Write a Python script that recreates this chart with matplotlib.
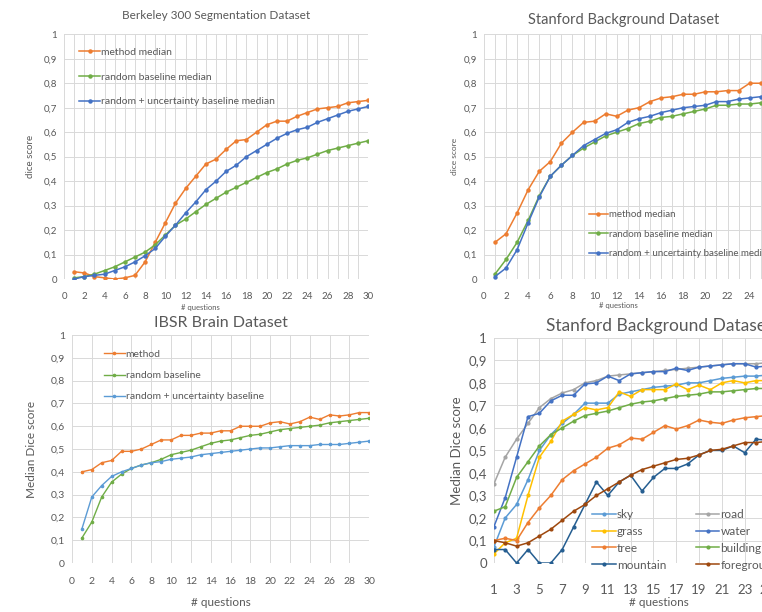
import matplotlib
matplotlib.use("Agg")
import matplotlib.pyplot as plt
from matplotlib.ticker import FuncFormatter, MultipleLocator

plt.rcParams["font.family"] = ["Lato", "DejaVu Sans"]

# ── data ──────────────────────────────────────────────────────────────────────
questions = list(range(1, 31))

# Berkeley 300 Segmentation Dataset
bsd_method = [0.03, 0.025, 0.01, 0.005, 0.0, 0.005, 0.015, 0.07, 0.15, 0.23,
              0.31, 0.37, 0.42, 0.47, 0.49, 0.53, 0.565, 0.57, 0.60, 0.63,
              0.645, 0.645, 0.665, 0.68, 0.695, 0.70, 0.705, 0.72, 0.725, 0.73]
bsd_random = [0.005, 0.01, 0.02, 0.035, 0.05, 0.07, 0.09, 0.11, 0.14, 0.18,
              0.22, 0.245, 0.275, 0.305, 0.33, 0.355, 0.375, 0.395, 0.415, 0.435,
              0.45, 0.47, 0.485, 0.495, 0.51, 0.525, 0.535, 0.545, 0.555, 0.565]
bsd_unc = [0.0, 0.01, 0.015, 0.02, 0.035, 0.05, 0.07, 0.095, 0.125, 0.175,
           0.22, 0.27, 0.315, 0.365, 0.40, 0.44, 0.465, 0.50, 0.525, 0.55,
           0.575, 0.595, 0.61, 0.62, 0.64, 0.655, 0.67, 0.685, 0.695, 0.705]

# Stanford Background Dataset (overall)
sbd_method = [0.15, 0.185, 0.27, 0.365, 0.44, 0.48, 0.555, 0.60, 0.64, 0.645,
              0.675, 0.665, 0.69, 0.70, 0.725, 0.74, 0.745, 0.755, 0.755, 0.765,
              0.765, 0.77, 0.77, 0.80, 0.80, 0.80, 0.81, 0.815, 0.82, 0.82]
sbd_random = [0.02, 0.08, 0.15, 0.24, 0.34, 0.42, 0.465, 0.505, 0.535, 0.56,
              0.585, 0.60, 0.615, 0.635, 0.645, 0.66, 0.665, 0.675, 0.685, 0.695,
              0.71, 0.71, 0.715, 0.715, 0.72, 0.725, 0.73, 0.735, 0.74, 0.74]
sbd_unc = [0.01, 0.045, 0.12, 0.23, 0.335, 0.42, 0.465, 0.505, 0.545, 0.57,
           0.595, 0.61, 0.64, 0.655, 0.665, 0.68, 0.69, 0.70, 0.705, 0.71,
           0.725, 0.725, 0.735, 0.74, 0.745, 0.75, 0.755, 0.76, 0.76, 0.765]

# IBSR Brain Dataset
ibsr_method = [0.40, 0.41, 0.44, 0.45, 0.49, 0.49, 0.50, 0.52, 0.54, 0.54,
               0.56, 0.56, 0.57, 0.57, 0.58, 0.58, 0.60, 0.60, 0.60, 0.615,
               0.62, 0.61, 0.62, 0.64, 0.63, 0.65, 0.645, 0.65, 0.66, 0.66]
ibsr_random = [0.11, 0.18, 0.29, 0.355, 0.39, 0.415, 0.43, 0.44, 0.455, 0.475,
               0.485, 0.495, 0.51, 0.525, 0.535, 0.54, 0.55, 0.56, 0.565, 0.575,
               0.585, 0.59, 0.595, 0.60, 0.605, 0.615, 0.62, 0.625, 0.63, 0.635]
ibsr_unc = [0.15, 0.29, 0.34, 0.38, 0.40, 0.415, 0.43, 0.44, 0.445, 0.455,
            0.46, 0.465, 0.475, 0.48, 0.485, 0.49, 0.495, 0.50, 0.505, 0.505,
            0.51, 0.515, 0.515, 0.515, 0.52, 0.52, 0.52, 0.525, 0.53, 0.535]

# Stanford Background Dataset, per class
cls_sky = [0.07, 0.20, 0.26, 0.37, 0.50, 0.57, 0.62, 0.66, 0.71, 0.71,
           0.71, 0.75, 0.76, 0.77, 0.78, 0.785, 0.79, 0.80, 0.80, 0.81,
           0.82, 0.825, 0.83, 0.83, 0.835, 0.84, 0.84, 0.845, 0.845, 0.85]
cls_grass = [0.04, 0.09, 0.11, 0.30, 0.47, 0.54, 0.63, 0.66, 0.69, 0.68,
             0.69, 0.76, 0.74, 0.77, 0.77, 0.77, 0.795, 0.77, 0.79, 0.77,
             0.80, 0.81, 0.80, 0.81, 0.81, 0.815, 0.82, 0.82, 0.825, 0.825]
cls_tree = [0.10, 0.11, 0.10, 0.18, 0.245, 0.30, 0.37, 0.41, 0.44, 0.47,
            0.51, 0.525, 0.555, 0.55, 0.58, 0.61, 0.595, 0.61, 0.635, 0.625,
            0.62, 0.635, 0.645, 0.65, 0.655, 0.66, 0.665, 0.665, 0.67, 0.67]
cls_mountain = [0.06, 0.06, 0.0, 0.06, 0.0, 0.0, 0.06, 0.16, 0.26, 0.36,
                0.30, 0.36, 0.39, 0.32, 0.38, 0.42, 0.42, 0.44, 0.48, 0.50,
                0.50, 0.52, 0.49, 0.55, 0.545, 0.55, 0.56, 0.56, 0.57, 0.57]
cls_road = [0.35, 0.47, 0.55, 0.62, 0.69, 0.73, 0.755, 0.77, 0.80, 0.81,
            0.83, 0.835, 0.84, 0.845, 0.85, 0.855, 0.86, 0.865, 0.87, 0.875,
            0.88, 0.885, 0.885, 0.885, 0.89, 0.89, 0.89, 0.895, 0.895, 0.895]
cls_water = [0.16, 0.29, 0.47, 0.65, 0.665, 0.72, 0.745, 0.745, 0.795, 0.80,
             0.83, 0.81, 0.84, 0.845, 0.85, 0.85, 0.865, 0.855, 0.87, 0.875,
             0.88, 0.885, 0.885, 0.87, 0.875, 0.88, 0.88, 0.885, 0.885, 0.89]
cls_building = [0.23, 0.25, 0.38, 0.45, 0.52, 0.57, 0.60, 0.63, 0.655, 0.665,
                0.675, 0.69, 0.705, 0.715, 0.72, 0.73, 0.74, 0.745, 0.75, 0.76,
                0.76, 0.765, 0.77, 0.775, 0.775, 0.78, 0.78, 0.785, 0.785, 0.79]
cls_foreground = [0.10, 0.09, 0.075, 0.09, 0.12, 0.15, 0.19, 0.23, 0.26, 0.30,
                  0.33, 0.36, 0.39, 0.415, 0.43, 0.445, 0.46, 0.465, 0.48, 0.50,
                  0.505, 0.52, 0.535, 0.535, 0.54, 0.545, 0.55, 0.555, 0.56, 0.56]

# ── palette (Office defaults) ────────────────────────────────────────────────
ORANGE = "#ED7D31"
GREEN = "#70AD47"
BLUE = "#4472C4"
LIGHTBLUE = "#5B9BD5"
GREY = "#A5A5A5"
YELLOW = "#FFC000"
DARKBLUE = "#255E91"
BROWN = "#9E480E"
TXT = "#595959"
GRID = "#D9D9D9"

comma = FuncFormatter(lambda v, _: "0" if abs(v) < 1e-9 else ("1" if abs(v - 1) < 1e-9 else f"{v:.1f}".replace(".", ",")))


def _style(ax, tick_size, xmajor, xminor=None, xpad=7):
    for s in ax.spines.values():
        s.set_visible(False)
    ax.set_ylim(0, 1)
    ax.yaxis.set_major_locator(MultipleLocator(0.1))
    ax.yaxis.set_major_formatter(comma)
    ax.xaxis.set_major_locator(MultipleLocator(xmajor))
    if xminor:
        ax.xaxis.set_minor_locator(MultipleLocator(xminor))
        ax.grid(True, which="minor", axis="x", color=GRID, lw=0.7)
    ax.grid(True, which="major", color=GRID, lw=0.7)
    ax.set_axisbelow(True)
    ax.tick_params(which="both", length=0, labelsize=tick_size, colors=TXT, pad=5)
    ax.tick_params(axis="x", pad=xpad)


def _line(ax, y, color, label, lw=1.1, ms=2.2):
    ax.plot(questions, y, color=color, lw=lw, marker="o", ms=ms, label=label)


def _legend(ax, x, y, size, spacing, **kw):
    ax.legend(loc="upper left", bbox_to_anchor=(x, y), bbox_transform=fig.transFigure,
              frameon=False, fontsize=size, labelcolor=TXT, handlelength=2.0,
              handletextpad=0.1, labelspacing=spacing, **kw)


fig = plt.figure(figsize=(7.62, 6.12), dpi=100)

# ── Berkeley ─────────────────────────────────────────────────────────────────
ax1 = fig.add_axes([0.084, 0.544, 0.399, 0.400])
_line(ax1, bsd_method, ORANGE, "method median")
_line(ax1, bsd_random, GREEN, "random baseline median")
_line(ax1, bsd_unc, BLUE, "random + uncertainty baseline median")
ax1.set_xlim(0, 30)
_style(ax1, 7, 2, 1, xpad=9)
ax1.set_title("Berkeley 300 Segmentation Dataset", fontsize=8.5, color=TXT, pad=11)
ax1.set_ylabel("dice score", fontsize=7, color=TXT, labelpad=6)
_legend(ax1, 0.092, 0.938, 7.5, 1.5)
fig.text(0.263, 0.494, "# questions", fontsize=5.5, color=TXT, ha="center")

# ── Stanford overall ─────────────────────────────────────────────────────────
ax2 = fig.add_axes([0.635, 0.544, 0.436, 0.400])
_line(ax2, sbd_method, ORANGE, "method median")
_line(ax2, sbd_random, GREEN, "random baseline median")
_line(ax2, sbd_unc, BLUE, "random + uncertainty baseline median")
ax2.set_xlim(0, 30)
_style(ax2, 7, 2, 1, xpad=9)
ax2.set_ylabel("dice score", fontsize=6, color=TXT, labelpad=4)
fig.text(0.818, 0.968, "Stanford Background Dataset", fontsize=10.5, color=TXT,
         ha="center", va="center")
_legend(ax2, 0.761, 0.671, 7, 1.1)
fig.text(0.812, 0.496, "# questions", fontsize=5.5, color=TXT, ha="center")

# ── IBSR ─────────────────────────────────────────────────────────────────────
ax3 = fig.add_axes([0.0945, 0.080, 0.390, 0.3725])
_line(ax3, ibsr_method, ORANGE, "method", lw=1.0, ms=1.6)
_line(ax3, ibsr_random, GREEN, "random baseline", lw=1.0, ms=1.6)
_line(ax3, ibsr_unc, LIGHTBLUE, "random + uncertainty baseline", lw=1.0, ms=1.6)
ax3.set_xlim(0, 30)
_style(ax3, 7.5, 2, xpad=10)
ax3.set_title("IBSR Brain Dataset", fontsize=11.5, color=TXT, pad=6)
ax3.set_ylabel("Median Dice score", fontsize=8.5, color=TXT, labelpad=10)
ax3.set_xlabel("# questions", fontsize=8.5, color=TXT, labelpad=8)
_legend(ax3, 0.124, 0.444, 7.5, 1.15)

# ── Stanford per class ───────────────────────────────────────────────────────
ax4 = fig.add_axes([0.648, 0.080, 0.434, 0.368])
_line(ax4, cls_sky, LIGHTBLUE, "sky", lw=1.1, ms=2)
_line(ax4, cls_grass, YELLOW, "grass", lw=1.1, ms=2)
_line(ax4, cls_tree, ORANGE, "tree", lw=1.1, ms=2)
_line(ax4, cls_mountain, DARKBLUE, "mountain", lw=1.1, ms=2)
_line(ax4, cls_road, GREY, "road", lw=1.1, ms=2)
_line(ax4, cls_water, BLUE, "water", lw=1.1, ms=2)
_line(ax4, cls_building, GREEN, "building", lw=1.1, ms=2)
_line(ax4, cls_foreground, BROWN, "foreground", lw=1.1, ms=2)
ax4.set_xlim(1, 30)
_style(ax4, 9.5, 2, xpad=15)
ax4.xaxis.set_major_locator(plt.FixedLocator(range(1, 30, 2)))
ax4.set_title("Stanford Background Dataset", fontsize=12.5, color=TXT, pad=5)
ax4.set_ylabel("Median Dice score", fontsize=9.5, color=TXT, labelpad=4)
ax4.set_xlabel("# questions", fontsize=8.5, color=TXT, labelpad=1)
_legend(ax4, 0.763, 0.186, 8.5, 0.5, ncol=2, columnspacing=2.5)

fig.savefig("out.png", dpi=100)
